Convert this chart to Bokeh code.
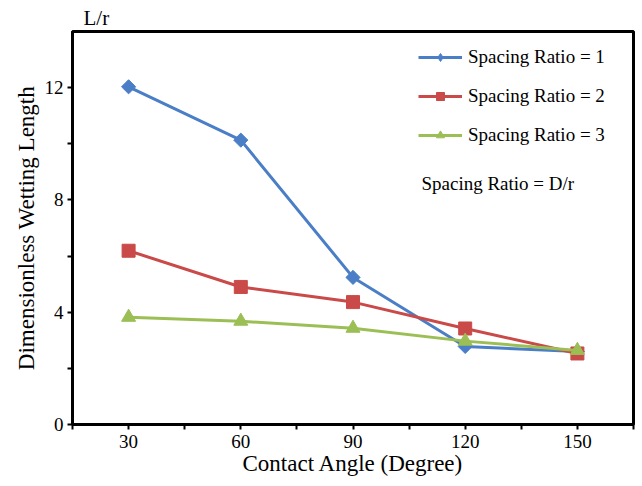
import math
from bokeh.plotting import figure
from bokeh.models import FixedTicker, Legend, LegendItem, Label, Range1d, Title
from bokeh.embed import file_html
from bokeh.resources import INLINE

angles = [30, 60, 90, 120, 150]
ratio1 = [12.03, 10.13, 5.24, 2.78, 2.6]
ratio2 = [6.19, 4.9, 4.36, 3.42, 2.53]
ratio3 = [3.82, 3.68, 3.43, 2.97, 2.64]
series_names = ["Spacing Ratio = 1", "Spacing Ratio = 2", "Spacing Ratio = 3"]
x_ticks = [30, 60, 90, 120, 150]
x_minor = [15, 45, 75, 105, 135, 165]
y_ticks = [0, 4, 8, 12]
y_minor = [2, 6, 10]

FONT = "Liberation Serif"

p = figure(width=638, height=486, output_backend="svg", toolbar_location=None,
           x_range=Range1d(15, 165), y_range=Range1d(0, 14),
           min_border_left=72, min_border_right=5, min_border_top=31,
           min_border_bottom=62)
p.background_fill_color = "white"
p.border_fill_color = "white"
p.grid.visible = False
p.outline_line_color = "black"
p.outline_line_width = 3

p.title = Title(text="L/r", align="left", offset=11, text_font=FONT,
                text_font_size="21px", text_font_style="normal",
                text_color="black", standoff=3)

for ax in (p.xaxis[0], p.yaxis[0]):
    ax.axis_line_width = 3
    ax.axis_line_color = "black"
    ax.major_tick_line_width = 2
    ax.minor_tick_line_width = 2
    ax.major_tick_in = 0
    ax.minor_tick_in = 0
    ax.major_tick_out = 5
    ax.minor_tick_out = 5
    ax.major_label_text_font = FONT
    ax.major_label_text_font_size = "19px"
    ax.major_label_text_color = "black"
    ax.axis_label_text_font = FONT
    ax.axis_label_text_font_size = "23px"
    ax.axis_label_text_font_style = "normal"
    ax.axis_label_text_color = "black"

p.xaxis.ticker = FixedTicker(ticks=x_ticks, minor_ticks=x_minor)
p.yaxis.ticker = FixedTicker(ticks=y_ticks, minor_ticks=y_minor)
p.xaxis.axis_label = "Contact Angle (Degree)"
p.yaxis.axis_label = "Dimensionless Wetting Length"
p.xaxis.major_label_standoff = 5
p.yaxis.major_label_standoff = 4
p.xaxis.axis_label_standoff = 0
p.yaxis.axis_label_standoff = 3

colors = ["#4A7EC6", "#C94A48", "#9BBF55"]
items = []

# Series 1: diamond key (drawn underneath) + rotated square on top in the plot
l1 = p.line(angles, ratio1, line_color=colors[0], line_width=3)
k1 = p.scatter(angles, ratio1, marker="diamond", size=12,
               fill_color=colors[0], line_color=colors[0])
p.scatter(angles, ratio1, marker="square", size=10, angle=math.pi / 4,
          fill_color=colors[0], line_color=colors[0])
items.append(LegendItem(label=series_names[0], renderers=[l1, k1]))

l2 = p.line(angles, ratio2, line_color=colors[1], line_width=3)
k2 = p.scatter(angles, ratio2, marker="square", size=13,
               fill_color=colors[1], line_color=colors[1])
items.append(LegendItem(label=series_names[1], renderers=[l2, k2]))

l3 = p.line(angles, ratio3, line_color=colors[2], line_width=3)
k3 = p.scatter(angles, ratio3, marker="triangle", size=14,
               fill_color=colors[2], line_color=colors[2])
items.append(LegendItem(label=series_names[2], renderers=[l3, k3]))

legend = Legend(items=items, location=(346, 278), margin=0, padding=0,
                glyph_width=44, glyph_height=20, label_height=20,
                spacing=17, label_standoff=6,
                label_text_font=FONT, label_text_font_size="19px",
                label_text_color="black",
                border_line_color=None, background_fill_alpha=0)
p.add_layout(legend, "center")

note = Label(x=108.3, y=8.6, text="Spacing Ratio = D/r", text_font=FONT,
             text_font_size="19px", text_color="black", text_baseline="middle",
             text_align="left")
p.add_layout(note)

open("out.html", "w").write(file_html(p, INLINE))
